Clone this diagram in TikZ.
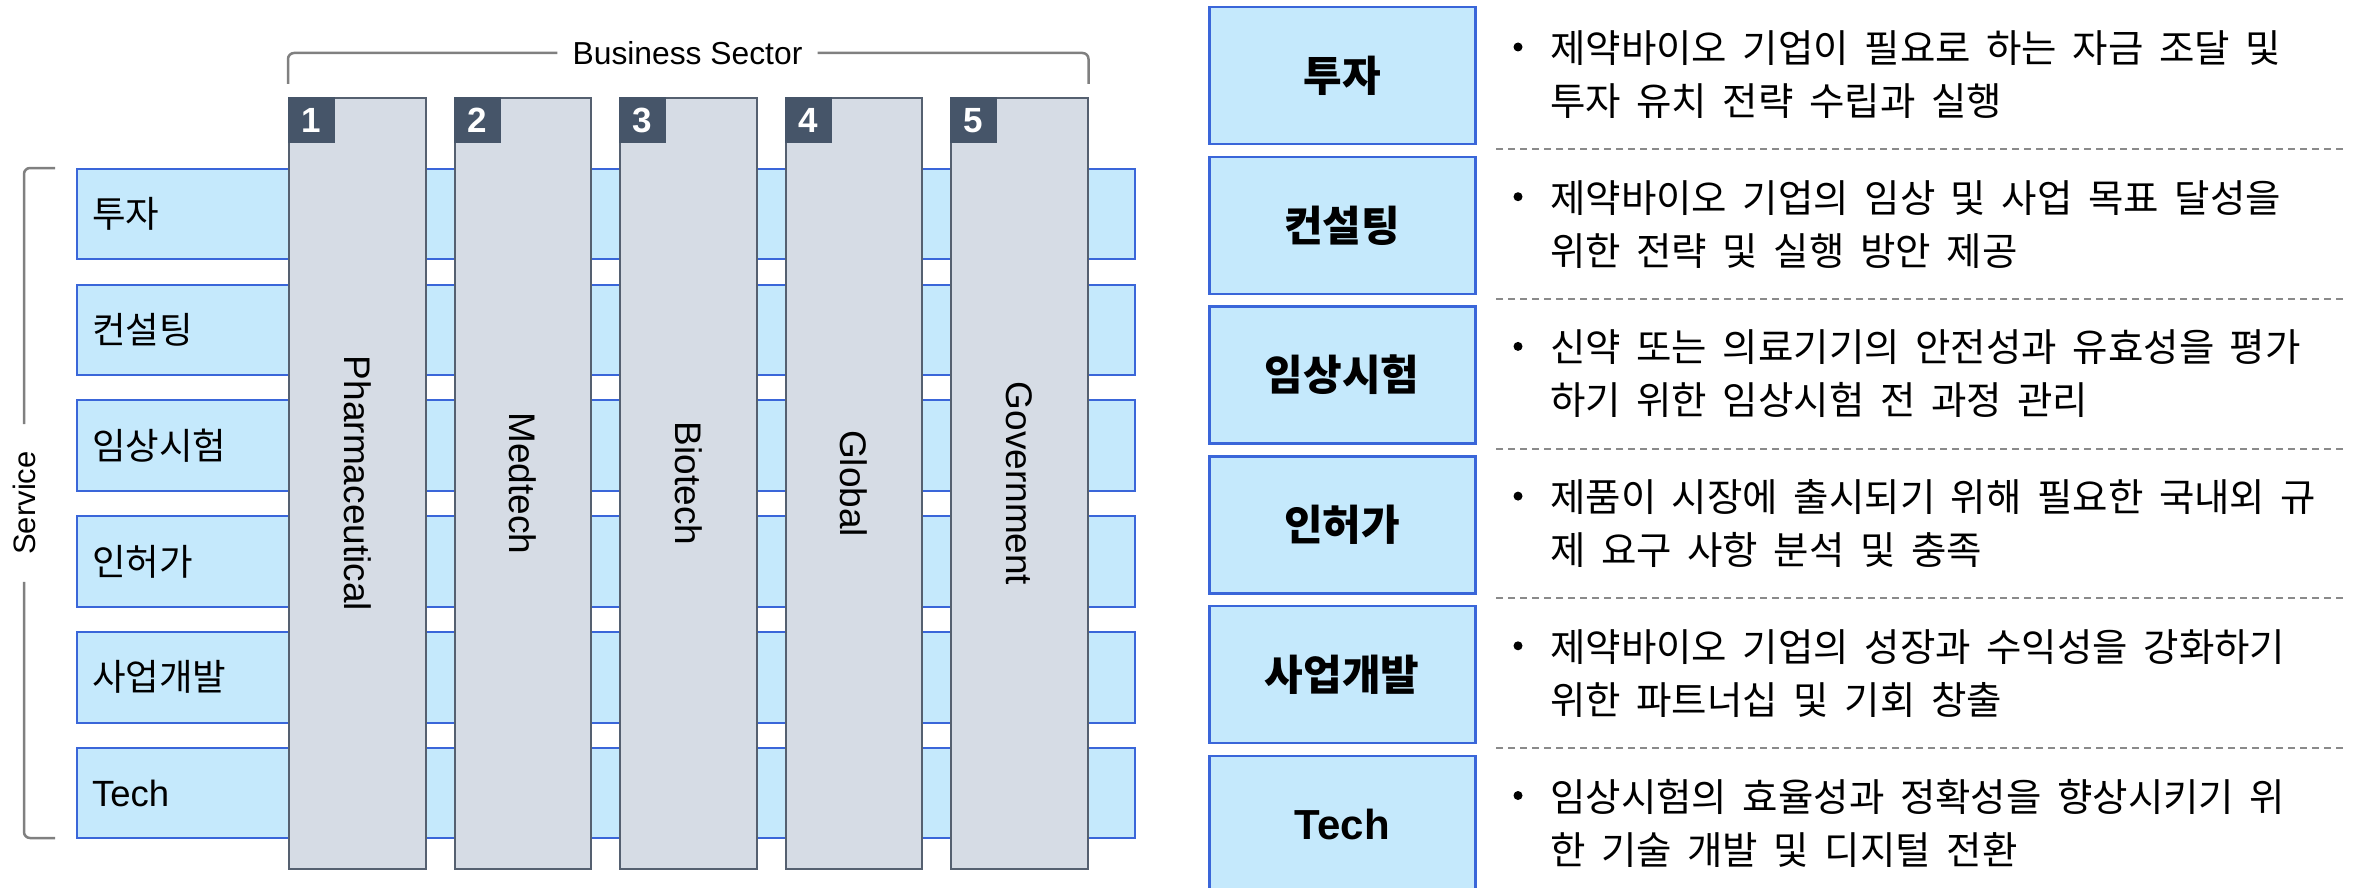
\documentclass[tikz,border=0pt]{standalone}
\usepackage{fontspec}
\setmainfont{Liberation Sans}
\newfontfamily\kr{Noto Sans CJK KR}
\newfontfamily\krd[WordSpace=1.8]{Noto Sans CJK KR}
\definecolor{rowfill}{HTML}{C5E9FC}
\definecolor{rowline}{HTML}{3A66D9}
\definecolor{colfill}{HTML}{D6DCE5}
\definecolor{colline}{HTML}{556070}
\definecolor{tabfill}{HTML}{465569}
\definecolor{brk}{HTML}{808080}
\definecolor{sepgray}{HTML}{8A8A8A}
\begin{document}
\begin{tikzpicture}[x=1pt,y=-1pt,
 rowbox/.style={rectangle, draw=rowline, fill=rowfill, line width=2pt, anchor=north west, minimum height=90.6pt, text width=1028pt, inner xsep=15pt, inner ysep=0pt, align=left, font=\fontsize{36.5}{40}\selectfont},
 colbox/.style={rectangle, draw=colline, fill=colfill, line width=2pt, anchor=north west, minimum width=136.5pt, minimum height=771pt, inner sep=0pt},
 tabbox/.style={rectangle, fill=tabfill, anchor=north west, minimum width=47pt, minimum height=46pt, inner sep=0pt, text=white, font=\bfseries\fontsize{35}{40}\selectfont},
 collabel/.style={rotate=-90, inner sep=0pt, font=\fontsize{37}{40}\selectfont},
 bracket/.style={draw=brk, line width=2.5pt, rounded corners=6pt},
 sbox/.style={rectangle, draw=rowline, fill=rowfill, line width=2.5pt, anchor=north west, minimum width=266pt, minimum height=137pt, inner sep=0pt, font=\bfseries\fontsize{42}{46}\selectfont},
 desc/.style={anchor=west, align=left, inner sep=0pt, font=\krd\fontsize{38.5}{53}\selectfont},
 bulletdot/.style={circle, fill=black, inner sep=0pt, minimum size=9pt},
 sepline/.style={draw=sepgray, line width=2pt, dash pattern=on 7pt off 5pt}
]
\useasboundingbox (0,0) rectangle (2356,888);

% service rows
\node[rowbox] (r1) at (76,167.7) {\kr 투자};
\node[rowbox] (r2) at (76,283.5) {\kr 컨설팅};
\node[rowbox] (r3) at (76,399.3) {\kr 임상시험};
\node[rowbox] (r4) at (76,515.1) {\kr 인허가};
\node[rowbox] (r5) at (76,630.9) {\kr 사업개발};
\node[rowbox] (r6) at (76,746.7) {Tech};

% business sector columns
\node[colbox] (c1) at (288,97) {};
\node[colbox] (c2) at (453.5,97) {};
\node[colbox] (c3) at (619,97) {};
\node[colbox] (c4) at (784.5,97) {};
\node[colbox] (c5) at (950,97) {};
\node[tabbox] (t1) at (c1.north west) {1};
\node[tabbox] (t2) at (c2.north west) {2};
\node[tabbox] (t3) at (c3.north west) {3};
\node[tabbox] (t4) at (c4.north west) {4};
\node[tabbox] (t5) at (c5.north west) {5};
\node[collabel] (l1) at (c1.center) {Pharmaceutical};
\node[collabel] (l2) at (c2.center) {Medtech};
\node[collabel] (l3) at (c3.center) {Biotech};
\node[collabel] (l4) at (c4.center) {Global};
\node[collabel] (l5) at (c5.center) {Government};

% brackets
\node[font=\fontsize{31.8}{36}\selectfont, inner xsep=15pt, inner ysep=0pt] (bs) at (687.5,53) {Business Sector};
\draw[bracket] ([yshift=13pt]c1.north west) |- (bs.west);
\draw[bracket] (bs.east) -| ([yshift=13pt]c5.north east);
\node[rotate=90, font=\fontsize{31}{36}\selectfont, inner xsep=27pt, inner ysep=0pt] (svc) at (24,503) {Service};
\draw[bracket] (55,168) -| (svc.east);
\draw[bracket] (svc.west) |- (55,838);

% right panel
\node[sbox] (s1) at (1208,6) {\kr\bfseries 투자};
\node[sbox] (s2) at (1208,155.7) {\kr\bfseries 컨설팅};
\node[sbox] (s3) at (1208,305.4) {\kr\bfseries 임상시험};
\node[sbox] (s4) at (1208,455.1) {\kr\bfseries 인허가};
\node[sbox] (s5) at (1208,604.8) {\kr\bfseries 사업개발};
\node[sbox] (s6) at (1208,754.5) {Tech};

\node[desc] (d1) at (1550,74.5) {제약바이오 기업이 필요로 하는 자금 조달 및\\투자 유치 전략 수립과 실행};
\node[desc] (d2) at (1550,224.2) {제약바이오 기업의 임상 및 사업 목표 달성을\\위한 전략 및 실행 방안 제공};
\node[desc] (d3) at (1550,373.9) {신약 또는 의료기기의 안전성과 유효성을 평가\\하기 위한 임상시험 전 과정 관리};
\node[desc] (d4) at (1550,523.6) {제품이 시장에 출시되기 위해 필요한 국내외 규\\제 요구 사항 분석 및 충족};
\node[desc] (d5) at (1550,673.3) {제약바이오 기업의 성장과 수익성을 강화하기\\위한 파트너십 및 기회 창출};
\node[desc] (d6) at (1550,823) {임상시험의 효율성과 정확성을 향상시키기 위\\한 기술 개발 및 디지털 전환};

\node[bulletdot] (b1) at (1518,47) {};
\node[bulletdot] (b2) at (1518,196.7) {};
\node[bulletdot] (b3) at (1518,346.4) {};
\node[bulletdot] (b4) at (1518,496.1) {};
\node[bulletdot] (b5) at (1518,645.8) {};
\node[bulletdot] (b6) at (1518,795.5) {};

\draw[sepline] (1496,149.3) -- (2343,149.3);
\draw[sepline] (1496,299) -- (2343,299);
\draw[sepline] (1496,448.7) -- (2343,448.7);
\draw[sepline] (1496,598.4) -- (2343,598.4);
\draw[sepline] (1496,748.1) -- (2343,748.1);
\end{tikzpicture}
\end{document}
